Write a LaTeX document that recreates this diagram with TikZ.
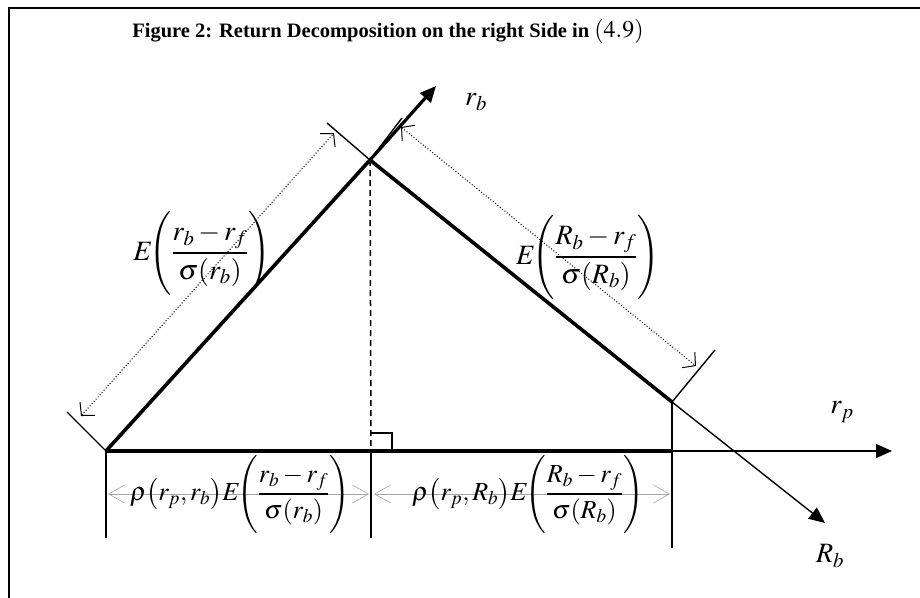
\documentclass[tikz,border=0pt]{standalone}
\usepackage{amsmath}
\usepackage{mathptmx}
\usepackage[no-math]{fontspec}
\setmainfont{Liberation Serif}
\usetikzlibrary{arrows.meta}

\begin{document}
\begin{tikzpicture}[x=1pt,y=-1pt,
                    axis/.style={line width=1.4pt,-{Triangle[length=16pt,width=14pt]}},
                    side/.style={line width=3.6pt},
                    thin/.style={line width=1.4pt},
                    span/.style={dotted,line width=1pt,
                      {Straight Barb[length=9pt,width=20pt]}-{Straight Barb[length=9pt,width=20pt]}},
                    base/.style={gray!70,line width=0.6pt,
                      {Straight Barb[length=16pt,width=18pt]}-{Straight Barb[length=16pt,width=18pt]}},
                    lbl/.style={inner sep=0pt,font=\fontsize{28}{32}\selectfont},
                    lblsm/.style={inner sep=0pt,font=\fontsize{26}{30}\selectfont}]
  \useasboundingbox (0,0) rectangle (920,597);
  \draw[line width=2pt] (9,610) -- (9,8) -- (930,8);
  \node (ttl) at (388,31) {\fontsize{20.5}{24}\selectfont\bfseries Figure 2: Return Decomposition on the right Side in
    {\normalfont\fontsize{24}{28}\selectfont$(4.9)$}};
  % triangle: origin, apex, right corner and the feet on the r_p axis
  \coordinate (O)  at (106,451);
  \coordinate (A)  at (370,160);
  \coordinate (B)  at (672,402);
  \coordinate (F)  at (371,451);
  \coordinate (Bf) at (672,451);
  \coordinate (rbTip) at (436,86);
  \coordinate (RbTip) at (825,523);
  \coordinate (rpTip) at (892,451);
  \draw[axis] (Bf) -- (rpTip);
  \draw[axis] (B) -- (RbTip);
  \draw[axis,line width=3.2pt] (A) -- (rbTip);
  \draw[side] (O) -- (A) -- (B);
  \draw[side] (O) -- (Bf);
  \draw[line width=1.5pt,dash pattern=on 6pt off 4pt] (A) -- (F);
  \draw[line width=2pt] (371,433) -| (392,451);
  % ticks and spans
  \coordinate (tO)  at (67,412);
  \coordinate (tA1) at (327,123);
  \coordinate (tA2) at (402,118);
  \coordinate (tB)  at (715,350);
  \draw[thin] (O) -- (tO);
  \draw[thin] (A) -- (tA1);
  \draw[thin] (A) -- (tA2);
  \draw[thin] (B) -- (tB);
  \draw[span] (81,416) -- (334,133);
  \draw[span] (401,127) -- (696,366);
  \coordinate (vO) at (106,538);
  \coordinate (vF) at (371,538);
  \coordinate (vB) at (672,548);
  \draw[thin] (O) -- (vO);
  \draw[thin] (F) -- (vF);
  \draw[thin] (B) -- (vB);
  \draw[base] (108,494) -- (369,494);
  \draw[base] (374,494) -- (670,494);
  \node[lbl] (rb) at (476,102) {$r_b$};
  \node[lbl] (rp) at (842,412) {$r_p$};
  \node[lbl] (Rb) at (830,556) {$R_b$};
  \node[lbl] (eL) at (202,253) {$E\!\Biggl(\dfrac{r_b-r_f}{\sigma(r_b)}\Biggr)$};
  \node[lbl] (eR) at (588,257) {$E\!\Biggl(\dfrac{R_b-r_f}{\sigma(R_b)}\Biggr)$};
  \node[lblsm] (pL) at (240,494) {$\rho\bigl(r_p,r_b\bigr)E\!\Biggl(\dfrac{r_b-r_f}{\sigma(r_b)}\Biggr)$};
  \node[lblsm] (pR) at (528,494) {$\rho\bigl(r_p,R_b\bigr)E\!\Biggl(\dfrac{R_b-r_f}{\sigma(R_b)}\Biggr)$};
\end{tikzpicture}
\end{document}
